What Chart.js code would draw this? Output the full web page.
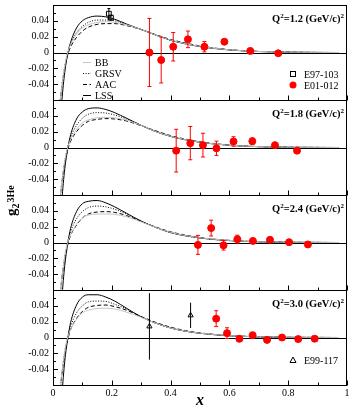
<!DOCTYPE html>
<html>
<head>
<meta charset="utf-8">
<script src="https://cdn.jsdelivr.net/npm/chart.js@4.4.1/dist/chart.umd.min.js"></script>
<style>
html, body { margin: 0; padding: 0; background: #fff; overflow: hidden; }
#c { display: block; }
</style>
</head>
<body>
<canvas id="c" width="352" height="409"></canvas>
<script>
// x grid shared by the model curves
var xGrid = [0.02, 0.03, 0.04, 0.05, 0.06, 0.08, 0.10, 0.12, 0.15, 0.18, 0.21, 0.25, 0.30, 0.35, 0.40, 0.45, 0.50, 0.55, 0.60, 0.65, 0.70, 0.80, 0.90, 0.97];

// Q2 = 1.2
var bb12   = [-0.074, -0.043, -0.017, 0.000, 0.010, 0.023, 0.031, 0.035, 0.038, 0.039, 0.038, 0.035, 0.029, 0.022, 0.0158, 0.0112, 0.0078, 0.0052, 0.0034, 0.0021, 0.0013, 0.0004, 0.0001, 0];
var grsv12 = [-0.078, -0.044, -0.018, 0.000, 0.011, 0.025, 0.033, 0.038, 0.041, 0.041, 0.040, 0.035, 0.029, 0.022, 0.0155, 0.011, 0.0077, 0.0052, 0.0034, 0.0021, 0.0013, 0.0004, 0.0001, 0];
var aac12  = [-0.072, -0.043, -0.019, -0.003, 0.007, 0.019, 0.027, 0.032, 0.0355, 0.0365, 0.0365, 0.034, 0.029, 0.0225, 0.0165, 0.012, 0.0083, 0.0056, 0.0036, 0.0022, 0.0014, 0.0005, 0.0001, 0];
var lss12  = [-0.120, -0.062, -0.025, -0.002, 0.013, 0.031, 0.040, 0.044, 0.046, 0.045, 0.042, 0.036, 0.029, 0.022, 0.0155, 0.011, 0.0075, 0.005, 0.0032, 0.002, 0.0012, 0.0004, 0.0001, 0];
// Q2 = 1.8
var bb18   = [-0.076, -0.044, -0.017, 0.000, 0.010, 0.023, 0.031, 0.035, 0.0375, 0.038, 0.0375, 0.0345, 0.028, 0.020, 0.0142, 0.010, 0.0068, 0.0045, 0.0029, 0.0018, 0.0011, 0.0003, 0.0001, 0];
var grsv18 = [-0.080, -0.045, -0.018, 0.001, 0.013, 0.028, 0.037, 0.042, 0.044, 0.0435, 0.041, 0.036, 0.028, 0.020, 0.014, 0.0098, 0.0067, 0.0045, 0.0029, 0.0018, 0.0011, 0.0003, 0.0001, 0];
var aac18  = [-0.075, -0.045, -0.020, -0.003, 0.008, 0.020, 0.028, 0.033, 0.0355, 0.0365, 0.036, 0.0335, 0.0275, 0.021, 0.015, 0.0106, 0.0073, 0.0049, 0.0031, 0.0019, 0.0012, 0.0004, 0.0001, 0];
var lss18  = [-0.130, -0.068, -0.027, -0.002, 0.016, 0.036, 0.045, 0.049, 0.050, 0.048, 0.044, 0.037, 0.028, 0.020, 0.014, 0.0098, 0.0066, 0.0044, 0.0028, 0.0017, 0.001, 0.0003, 0.0001, 0];
// Q2 = 2.4
var bb24   = [-0.078, -0.045, -0.017, 0.000, 0.010, 0.023, 0.031, 0.0345, 0.036, 0.036, 0.0355, 0.0325, 0.026, 0.019, 0.0128, 0.0088, 0.006, 0.004, 0.0026, 0.0016, 0.001, 0.0003, 0.0001, 0];
var grsv24 = [-0.082, -0.046, -0.018, 0.001, 0.014, 0.030, 0.039, 0.044, 0.046, 0.045, 0.042, 0.036, 0.027, 0.019, 0.0125, 0.0086, 0.0058, 0.0038, 0.0025, 0.0015, 0.0009, 0.0003, 0.0001, 0];
var aac24  = [-0.078, -0.046, -0.020, -0.003, 0.009, 0.022, 0.031, 0.036, 0.0385, 0.039, 0.038, 0.034, 0.0265, 0.0195, 0.0135, 0.0093, 0.0063, 0.0042, 0.0027, 0.0017, 0.001, 0.0003, 0.0001, 0];
var lss24  = [-0.135, -0.072, -0.029, -0.002, 0.018, 0.039, 0.049, 0.052, 0.053, 0.050, 0.045, 0.037, 0.027, 0.019, 0.0125, 0.0085, 0.0057, 0.0037, 0.0024, 0.0015, 0.0009, 0.0003, 0.0001, 0];
// Q2 = 3.0
var bb30   = [-0.078, -0.045, -0.017, 0.000, 0.010, 0.023, 0.031, 0.0345, 0.0365, 0.037, 0.036, 0.032, 0.0255, 0.018, 0.012, 0.0082, 0.0055, 0.0037, 0.0024, 0.0015, 0.0009, 0.0003, 0.0001, 0];
var grsv30 = [-0.084, -0.047, -0.018, 0.001, 0.014, 0.031, 0.040, 0.045, 0.046, 0.0455, 0.042, 0.036, 0.026, 0.018, 0.012, 0.008, 0.0054, 0.0036, 0.0023, 0.0014, 0.0008, 0.0002, 0.0001, 0];
var aac30  = [-0.080, -0.047, -0.020, -0.003, 0.010, 0.024, 0.033, 0.038, 0.0405, 0.041, 0.039, 0.0345, 0.0265, 0.019, 0.013, 0.0088, 0.0059, 0.0039, 0.0025, 0.0016, 0.0009, 0.0003, 0.0001, 0];
var lss30  = [-0.140, -0.075, -0.030, -0.002, 0.019, 0.041, 0.051, 0.054, 0.054, 0.051, 0.046, 0.037, 0.026, 0.018, 0.012, 0.008, 0.0053, 0.0035, 0.0022, 0.0014, 0.0008, 0.0002, 0.0001, 0];

// E01-012 data
var e01x12 = [0.328, 0.368, 0.409, 0.459, 0.515, 0.583, 0.671, 0.766];
var e01y12 = [0.000, -0.0095, 0.0073, 0.0166, 0.0073, 0.0136, 0.002, -0.001];
var e01e12 = [0.043, 0.029, 0.018, 0.0105, 0.0065, 0.002, 0.0015, 0.001];
var e01x18 = [0.419, 0.467, 0.510, 0.556, 0.614, 0.678, 0.755, 0.830];
var e01y18 = [-0.004, 0.0055, 0.003, -0.001, 0.0076, 0.008, 0.003, -0.004];
var e01e18 = [0.027, 0.021, 0.015, 0.009, 0.006, 0.004, 0.0015, 0.0012];
var e01x24 = [0.493, 0.538, 0.580, 0.627, 0.680, 0.738, 0.803, 0.867];
var e01y24 = [-0.003, 0.0182, -0.0035, 0.0042, 0.002, 0.0034, 0.0004, -0.0025];
var e01e24 = [0.012, 0.010, 0.006, 0.005, 0.002, 0.0015, 0.001, 0.001];
var e01x30 = [0.555, 0.592, 0.634, 0.679, 0.728, 0.779, 0.834, 0.890];
var e01y30 = [0.0238, 0.0055, -0.0017, 0.003, -0.003, 0.000, -0.002, -0.0015];
var e01e30 = [0.010, 0.0068, 0.002, 0.0015, 0.001, 0.001, 0.001, 0.001];

// E97-103 (Q2=1.2 panel) and E99-117 (Q2=3.0 panel)
var e97x = [0.190, 0.197];
var e97y = [0.049, 0.044];
var e97e = [0.0065, 0.003];
var e99x = [0.328, 0.468];
var e99y = [0.014, 0.028];
var e99e = [0.042, 0.016];

var q2Values = ['1.2', '1.8', '2.4', '3.0'];
var modelNames = ['BB', 'GRSV', 'AAC', 'LSS'];
var xTickValues = [0, 0.2, 0.4, 0.6, 0.8, 1];
var yTickValues = [-0.04, -0.02, 0, 0.02, 0.04];

var serif = '"Liberation Serif", "Times New Roman", serif';
Chart.defaults.font.family = serif;
Chart.defaults.color = '#000';

var panelIds = ['y1', 'y2', 'y3', 'y4'];
var modelStyle = [
    {color: '#c4c4c4', dash: []},
    {color: '#000', dash: [1, 1.6]},
    {color: '#000', dash: [4, 2.5]},
    {color: '#000', dash: []}
];

function curve(idx, ys, axis) {
    return {
        label: modelNames[idx],
        data: xGrid.map(function(x, i) { return {x: x, y: ys[i]}; }),
        yAxisID: axis,
        showLine: true,
        pointRadius: 0,
        borderWidth: 1,
        borderColor: modelStyle[idx].color,
        borderDash: modelStyle[idx].dash,
        cubicInterpolationMode: 'monotone',
        order: 1
    };
}

function points(label, xs, ys, errs, axis, style, fill, color, radius, cap) {
    return {
        label: label,
        data: xs.map(function(x, i) { return {x: x, y: ys[i]}; }),
        errorBars: errs,
        capHalf: cap,
        yAxisID: axis,
        showLine: false,
        pointStyle: style,
        pointRadius: radius,
        pointBackgroundColor: fill,
        pointBorderColor: color,
        pointBorderWidth: 1,
        borderColor: color,
        order: 0
    };
}

var modelSets = [
    [bb12, grsv12, aac12, lss12],
    [bb18, grsv18, aac18, lss18],
    [bb24, grsv24, aac24, lss24],
    [bb30, grsv30, aac30, lss30]
];
var e01Sets = [
    [e01x12, e01y12, e01e12],
    [e01x18, e01y18, e01e18],
    [e01x24, e01y24, e01e24],
    [e01x30, e01y30, e01e30]
];

var datasets = [];
panelIds.forEach(function(id, p) {
    modelSets[p].forEach(function(ys, m) { datasets.push(curve(m, ys, id)); });
    datasets.push(points('E01-012', e01Sets[p][0], e01Sets[p][1], e01Sets[p][2], id, 'circle', '#ff0000', '#ff0000', 3.5, 2));
});
datasets.push(points('E97-103', e97x, e97y, e97e, 'y1', 'rect', 'rgba(255,255,255,0)', '#000', 3.4, 1.5));
datasets.push(points('E99-117', e99x, e99y, e99e, 'y4', 'triangle', 'rgba(255,255,255,0)', '#000', 3, 0));

function fmt(v) { return v === 0 ? '0' : String(v); }

function panelScale(weight) {
    return {
        type: 'linear', axis: 'y', position: 'left',
        stack: 'panels', stackWeight: 1, weight: weight,
        min: -0.06, max: 0.06,
        grid: {display: false, drawTicks: false},
        border: {display: false},
        ticks: {padding: 4, font: {size: 10, family: serif}, color: '#000', callback: fmt, autoSkip: false},
        afterBuildTicks: function(s) { s.ticks = yTickValues.map(function(v) { return {value: v}; }); },
        afterFit: function(s) { s.width = 53; s.paddingTop = 0; s.paddingBottom = 0; }
    };
}

// frame, zero line and inner ticks for every panel
var framePlugin = {
    id: 'panelFrame',
    beforeDatasetsDraw: function(chart) {
        var ctx = chart.ctx, a = chart.chartArea, xs = chart.scales.x;
        ctx.save();
        ctx.strokeStyle = '#000';
        ctx.lineWidth = 1;
        panelIds.forEach(function(id) {
            var s = chart.scales[id];
            var top = Math.round(s.top) + 0.5, bot = Math.round(s.bottom) + 0.5;
            ctx.strokeRect(a.left + 0.5, top, a.right - a.left - 1, bot - top);
            var z = Math.round(s.getPixelForValue(0)) + 0.5;
            ctx.beginPath();
            ctx.moveTo(a.left, z); ctx.lineTo(a.right, z);
            // y ticks
            var step = yTickValues[1] - yTickValues[0];
            yTickValues.forEach(function(v) {
                var py = Math.round(s.getPixelForValue(v)) + 0.5;
                ctx.moveTo(a.left, py); ctx.lineTo(a.left + 5, py);
            });
            yTickValues.concat([yTickValues[0] - step]).forEach(function(v) {
                var py = Math.round(s.getPixelForValue(v + step / 2)) + 0.5;
                ctx.moveTo(a.left, py); ctx.lineTo(a.left + 3, py);
            });
            // x ticks on panel bottom
            var xstep = xTickValues[1] - xTickValues[0];
            xTickValues.forEach(function(v, i) {
                var px = Math.round(xs.getPixelForValue(v)) + 0.5;
                ctx.moveTo(px, bot); ctx.lineTo(px, bot - 5);
                if (i < xTickValues.length - 1) {
                    var pm = Math.round(xs.getPixelForValue(v + xstep / 2)) + 0.5;
                    ctx.moveTo(pm, bot); ctx.lineTo(pm, bot - 3);
                }
            });
            ctx.stroke();
        });
        ctx.restore();
    },
    beforeDatasetDraw: function(chart, args) {
        var ctx = chart.ctx, a = chart.chartArea, s = args.meta.yScale;
        ctx.save();
        ctx.beginPath();
        ctx.rect(a.left, s.top, a.right - a.left, s.bottom - s.top);
        ctx.clip();
    },
    afterDatasetDraw: function(chart, args) {
        var ctx = chart.ctx, ds = chart.data.datasets[args.index];
        if (ds.errorBars) {
            var xs = args.meta.xScale, ys = args.meta.yScale, c = ds.capHalf;
            ctx.strokeStyle = ds.borderColor;
            ctx.lineWidth = 1;
            ctx.beginPath();
            ds.data.forEach(function(p, i) {
                var e = ds.errorBars[i];
                var px = xs.getPixelForValue(p.x);
                var y1 = ys.getPixelForValue(p.y + e), y2 = ys.getPixelForValue(p.y - e);
                ctx.moveTo(px, y1); ctx.lineTo(px, y2);
                if (c > 0) {
                    ctx.moveTo(px - c, y1); ctx.lineTo(px + c, y1);
                    ctx.moveTo(px - c, y2); ctx.lineTo(px + c, y2);
                }
            });
            ctx.stroke();
        }
        ctx.restore();
    },
    afterDraw: function(chart) {
        var ctx = chart.ctx, a = chart.chartArea;
        ctx.save();
        ctx.fillStyle = '#000';
        ctx.textBaseline = 'alphabetic';
        // Q2 labels
        panelIds.forEach(function(id, p) {
            var s = chart.scales[id];
            var parts = [['Q', 0], ['2', 1], ['=' + q2Values[p] + ' (GeV/c)', 0], ['2', 1]];
            var big = 'bold 10.5px ' + serif, small = 'bold 7px ' + serif;
            var w = 0;
            parts.forEach(function(t) { ctx.font = t[1] ? small : big; w += ctx.measureText(t[0]).width; });
            var x = a.right - 3 - w, y = s.top + 17;
            parts.forEach(function(t) {
                ctx.font = t[1] ? small : big;
                ctx.fillText(t[0], x, t[1] ? y - 4.5 : y);
                x += ctx.measureText(t[0]).width;
            });
        });
        // model legend in the top panel
        var s1 = chart.scales.y1;
        ctx.font = '10px ' + serif;
        modelNames.forEach(function(name, m) {
            var ly = s1.top + 57 + m * 11;
            ctx.save();
            ctx.strokeStyle = modelStyle[m].color;
            ctx.setLineDash(modelStyle[m].dash);
            ctx.lineWidth = 1;
            ctx.beginPath();
            ctx.moveTo(83, ly + 0.5); ctx.lineTo(91, ly + 0.5);
            ctx.stroke();
            ctx.restore();
            ctx.fillText(name, 95, ly + 3.5);
        });
        // data legends
        ctx.lineWidth = 1;
        ctx.strokeStyle = '#000';
        var ly1 = s1.top + 69;
        ctx.strokeRect(290.5, ly1 - 2.5, 5, 5);
        ctx.fillText('E97-103', 304, ly1 + 3.5);
        var ly2 = s1.top + 80;
        ctx.fillStyle = '#ff0000';
        ctx.beginPath(); ctx.arc(293, ly2, 3.5, 0, Math.PI * 2); ctx.fill();
        ctx.fillStyle = '#000';
        ctx.fillText('E01-012', 304, ly2 + 3.5);
        var s4 = chart.scales.y4;
        var ly3 = s4.top + 70;
        ctx.beginPath();
        ctx.moveTo(293, ly3 - 3); ctx.lineTo(296, ly3 + 2.5); ctx.lineTo(290, ly3 + 2.5); ctx.closePath();
        ctx.stroke();
        ctx.fillText('E99-117', 304, ly3 + 3.5);
        // y title g2^3He
        ctx.translate(16, 216);
        ctx.rotate(-Math.PI / 2);
        ctx.font = 'bold 15px ' + serif;
        ctx.fillText('g', 0, 0);
        var gx = ctx.measureText('g').width;
        ctx.font = 'bold 10px ' + serif;
        ctx.fillText('2', gx, 3);
        var tx = gx + ctx.measureText('2').width + 1;
        ctx.fillText('3He', tx, -2);
        ctx.restore();
    }
};

var chart = new Chart(document.getElementById('c').getContext('2d'), {
    type: 'scatter',
    data: {datasets: datasets},
    options: {
        responsive: false,
        animation: false,
        devicePixelRatio: 1,
        layout: {padding: {left: 0, right: 3, top: 1, bottom: 0}},
        plugins: {legend: {display: false}, tooltip: {enabled: false}},
        scales: {
            x: {
                type: 'linear', position: 'bottom', min: 0, max: 1,
                grid: {display: false, drawTicks: false},
                border: {display: false},
                ticks: {padding: 2, font: {size: 10, family: serif}, color: '#000', callback: fmt, maxRotation: 0, autoSkip: false},
                afterBuildTicks: function(s) { s.ticks = xTickValues.map(function(v) { return {value: v}; }); },
                afterFit: function(s) { s.height = 24; s.paddingLeft = 0; s.paddingRight = 0; },
                title: {display: true, text: 'x', color: '#000', padding: {top: 0, bottom: 0},
                        font: {size: 16, weight: 'bold', style: 'italic', lineHeight: 1, family: serif}}
            },
            y1: panelScale(4),
            y2: panelScale(3),
            y3: panelScale(2),
            y4: panelScale(1)
        }
    },
    plugins: [framePlugin]
});
</script>
</body>
</html>
